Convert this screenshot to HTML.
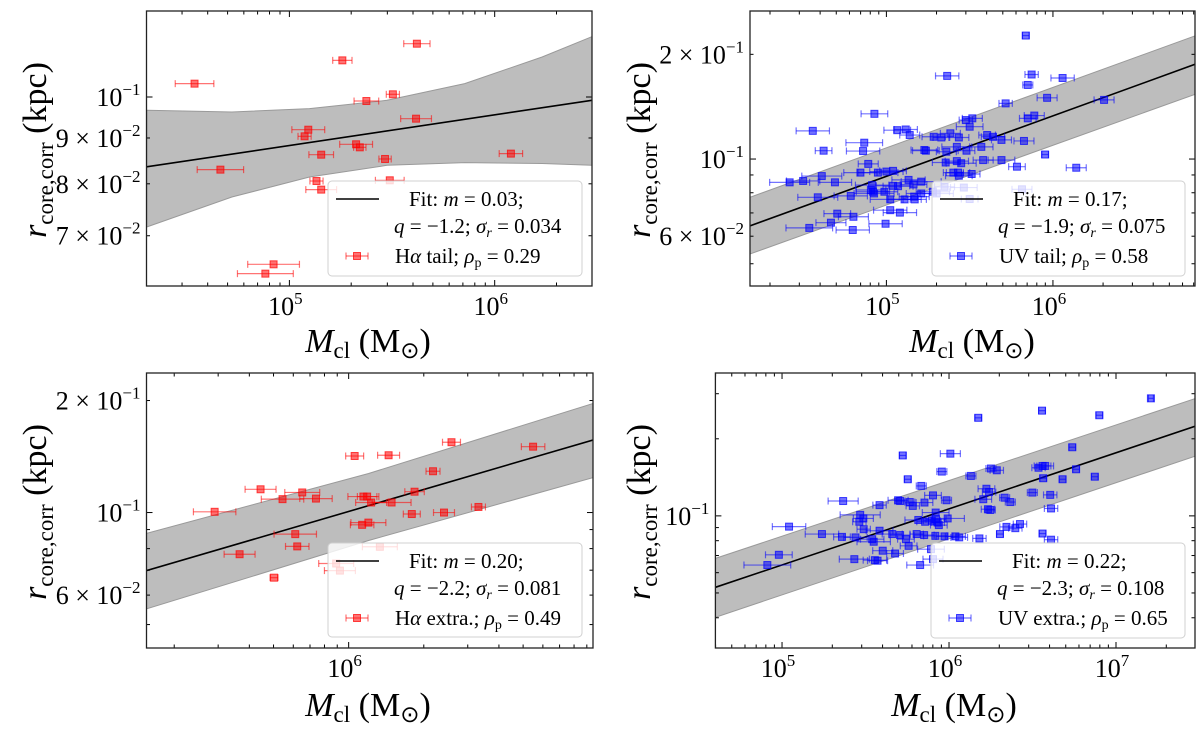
<!DOCTYPE html>
<html><head><meta charset="utf-8"><style>
html,body{margin:0;padding:0;background:#fff;}
svg{display:block;font-family:"Liberation Serif","DejaVu Serif",serif;}
</style></head><body>
<svg id="fig" width="1200" height="735" viewBox="0 0 1200 735" xmlns="http://www.w3.org/2000/svg"></svg>
<script>
// ---------- Panel 1 : Halpha tail (log10 values) ----------
const p1LogM=[5.621,5.258,4.538,5.504,5.375,5.617,5.092,5.074,5.325,5.343,5.155,5.466,6.079,4.664,5.132,5.489,5.155,4.923,4.883];
const p1LogR=[-0.9405,-0.9591,-0.9851,-0.997,-1.0045,-1.0242,-1.0365,-1.0439,-1.0528,-1.0562,-1.0644,-1.0692,-1.0632,-1.0811,-1.0938,-1.093,-1.1034,-1.1868,-1.1972];
const p1XErr=[0.064,0.047,0.094,0.032,0.06,0.075,0.08,0.032,0.08,0.03,0.06,0.03,0.057,0.113,0.032,0.07,0.075,0.126,0.136];
const p1FitX=[4.304,6.474];
const p1FitY=[-1.078,-1.0037];
const p1BandX=[4.305,4.72,5.098,5.476,5.854,6.231,6.477];
const p1BandUp=[-1.0148,-1.0167,-1.013,-1.0037,-0.985,-0.9554,-0.9323];
const p1BandLo=[-1.1451,-1.1116,-1.0893,-1.0762,-1.0732,-1.0743,-1.0762];
const p1YTicks=[0.1,0.09,0.08,0.07];
const p1YLabels=[["","-1"],["9","-2"],["8","-2"],["7","-2"]];
const p1XTicks=[1e5,1e6];
const p1XLabels=["5","6"];
// ---------- Panel 2 : UV tail ----------
const p2LogM=[5.837,5.365,5.872,6.058,5.849,5.965,5.716,6.307,4.928,5.516,5.477,5.849,5.888,5.5,4.558,5.065,5.116,5.14,5.284,5.33,5.384,5.435,5.605,5.64,5.691,5.826,4.867,4.623,4.86,5.228,5.237,5.36,5.423,5.481,5.57,5.953,4.891,5.581,5.691,5.356,5.423,5.449,5.784,6.14,4.844,4.949,5.0,5.04,4.612,4.419,4.5,4.691,5.402,5.43,5.435,5.512,5.133,5.209,5.163,4.914,5.04,5.07,4.919,4.988,4.926,4.907,4.786,4.588,5.023,5.109,5.167,5.17,5.209,5.279,5.349,5.465,5.302,5.5,5.814,4.705,4.802,5.023,5.081,4.667,4.995,4.537,4.798];
const p2LogR=[-0.645,-0.761,-0.757,-0.767,-0.787,-0.824,-0.84,-0.83,-0.87,-0.883,-0.888,-0.883,-0.875,-0.907,-0.919,-0.917,-0.915,-0.931,-0.936,-0.938,-0.926,-0.938,-0.931,-0.936,-0.945,-0.948,-0.953,-0.976,-0.977,-0.974,-0.976,-0.979,-0.965,-0.976,-0.965,-0.987,-1.014,-1.003,-1.003,-1.01,-1.006,-1.012,-1.022,-1.025,-1.039,-1.039,-1.036,-1.034,-1.049,-1.067,-1.063,-1.067,-1.039,-1.039,-1.048,-1.043,-1.06,-1.065,-1.073,-1.075,-1.077,-1.078,-1.094,-1.094,-1.099,-1.089,-1.106,-1.11,-1.116,-1.116,-1.108,-1.116,-1.099,-1.094,-1.08,-1.082,-1.099,-1.115,-1.087,-1.157,-1.166,-1.147,-1.154,-1.183,-1.186,-1.198,-1.204];
const p2XErr=[0.02,0.07,0.04,0.07,0.03,0.06,0.04,0.06,0.08,0.06,0.04,0.05,0.06,0.08,0.1,0.08,0.07,0.06,0.07,0.05,0.06,0.06,0.05,0.07,0.06,0.06,0.11,0.05,0.1,0.08,0.08,0.06,0.09,0.05,0.07,0.02,0.06,0.06,0.08,0.08,0.07,0.09,0.05,0.06,0.1,0.12,0.1,0.08,0.12,0.12,0.1,0.1,0.06,0.07,0.08,0.05,0.1,0.12,0.08,0.1,0.1,0.09,0.1,0.08,0.12,0.09,0.1,0.12,0.12,0.1,0.09,0.07,0.09,0.1,0.06,0.08,0.1,0.05,0.06,0.08,0.09,0.1,0.1,0.09,0.1,0.14,0.1];
const p2FitX=[4.181,6.853];
const p2FitY=[-1.192,-0.7276];
const p2BandX=[4.181,6.853];
const p2BandUp=[-1.11,-0.646];
const p2BandLo=[-1.273,-0.814];
const p2YTicks=[0.2,0.1,0.06];
const p2YLabels=[["2","-1"],["","-1"],["6","-2"]];
const p2XTicks=[1e5,1e6];
const p2XLabels=["5","6"];
// ---------- Panel 3 : Halpha extra ----------
const p3LogM=[6.412,6.739,6.024,6.16,6.338,5.647,5.814,5.735,5.869,6.059,6.074,6.09,6.172,6.264,5.463,6.253,6.382,6.52,6.054,6.079,5.786,5.794,5.563,6.125,5.95,5.965,5.701];
const p3LogR=[-0.811,-0.823,-0.848,-0.846,-0.889,-0.9375,-0.946,-0.964,-0.9625,-0.957,-0.957,-0.973,-0.973,-0.944,-0.998,-1.004,-1.0,-0.985,-1.033,-1.027,-1.058,-1.091,-1.112,-1.092,-1.137,-1.156,-1.175];
const p3XErr=[0.036,0.047,0.036,0.044,0.028,0.062,0.07,0.085,0.065,0.062,0.039,0.062,0.078,0.039,0.085,0.034,0.042,0.028,0.047,0.07,0.085,0.047,0.062,0.07,0.07,0.062,0.016];
const p3FitX=[5.19,6.979];
const p3FitY=[-1.156,-0.805];
const p3BandX=[5.19,6.08,6.979];
const p3BandUp=[-1.056,-0.895,-0.707];
const p3BandLo=[-1.259,-1.075,-0.906];
const p3YTicks=[0.2,0.1,0.06];
const p3YLabels=[["2","-1"],["","-1"],["6","-2"]];
const p3XTicks=[1e6];
const p3XLabels=["6"];
// ---------- Panel 4 : UV extra ----------
const p4LogM=[7.209,6.557,6.175,6.9,6.738,5.723,6.008,6.56,6.536,6.576,6.251,6.286,6.761,5.957,6.131,5.753,6.564,6.68,6.873,5.834,6.224,6.24,6.499,6.606,5.904,6.333,6.367,6.205,5.366,5.584,5.695,5.707,5.765,5.783,5.853,5.985,6.233,6.247,6.611,5.92,5.468,5.487,5.463,5.489,5.816,5.857,5.897,5.922,5.932,5.992,5.939,6.425,6.344,6.397,5.239,5.359,5.44,5.584,5.66,5.707,5.742,5.806,5.851,5.918,5.973,6.038,6.061,6.182,6.305,6.56,6.611,5.54,5.549,5.758,5.603,5.677,5.892,5.433,5.556,5.572,5.904,5.827,4.981,4.912,5.042];
const p4LogR=[-0.541,-0.589,-0.617,-0.607,-0.732,-0.764,-0.757,-0.805,-0.812,-0.805,-0.815,-0.822,-0.818,-0.827,-0.844,-0.857,-0.853,-0.857,-0.847,-0.883,-0.894,-0.907,-0.909,-0.918,-0.92,-0.929,-0.946,-0.935,-0.942,-0.958,-0.939,-0.942,-0.946,-0.961,-0.948,-0.939,-0.974,-0.977,-0.971,-0.987,-0.996,-1.01,-1.023,-1.052,-1.016,-1.023,-1.019,-1.013,-1.026,-1.01,-1.036,-1.032,-1.043,-1.048,-1.071,-1.082,-1.084,-1.058,-1.071,-1.075,-1.091,-1.071,-1.075,-1.078,-1.08,-1.08,-1.084,-1.088,-1.071,-1.069,-1.093,-1.091,-1.101,-1.117,-1.136,-1.147,-1.13,-1.169,-1.173,-1.175,-1.169,-1.192,-1.152,-1.192,-1.042];
const p4XErr=[0.015,0.02,0.02,0.02,0.02,0.02,0.06,0.05,0.04,0.05,0.03,0.04,0.02,0.03,0.03,0.02,0.02,0.02,0.02,0.03,0.05,0.04,0.03,0.04,0.05,0.03,0.03,0.05,0.09,0.04,0.06,0.03,0.03,0.04,0.05,0.03,0.04,0.03,0.04,0.08,0.12,0.06,0.04,0.04,0.08,0.05,0.05,0.06,0.04,0.1,0.05,0.04,0.04,0.04,0.1,0.05,0.07,0.08,0.06,0.06,0.05,0.04,0.06,0.07,0.05,0.06,0.05,0.04,0.02,0.02,0.04,0.07,0.1,0.05,0.06,0.05,0.08,0.09,0.07,0.06,0.06,0.08,0.08,0.14,0.1];
const p4FitX=[4.601,7.473];
const p4FitY=[-1.279,-0.65];
const p4BandX=[4.601,7.473];
const p4BandUp=[-1.166,-0.542];
const p4BandLo=[-1.396,-0.767];
const p4YTicks=[0.1];
const p4YLabels=[["","-1"]];
const p4XTicks=[1e5,1e6,1e7];
const p4XLabels=["5","6","7"];

const NS="http://www.w3.org/2000/svg";
const svg=document.getElementById('fig');
function mk(tag,attrs,parent){const e=document.createElementNS(NS,tag);for(const k in attrs)e.setAttribute(k,attrs[k]);(parent||svg).appendChild(e);return e;}

const panels=[
 {id:'p1',L:146.5,R:592,T:11,B:286,x0:4.304,x1:6.474,y0:-1.211,y1:-0.904,m:p1LogM,r:p1LogR,xe:p1XErr,fx:p1FitX,fy:p1FitY,bx:p1BandX,bu:p1BandUp,bl:p1BandLo,yt:p1YTicks,yl:p1YLabels,xt:p1XTicks,xl:p1XLabels,col:'255,0,0',
  leg:{x:328,y:181,w:254,h:95},t1:['Fit: ','m',' = 0.03;'],t2:'−1.2',t2b:'0.034',t3:['H','α',' tail; '],t3v:'0.29',ylx:36,yly:150,xlx:368,xly:352},
 {id:'p2',L:750,R:1195,T:11,B:286,x0:4.181,x1:6.853,y0:-1.365,y1:-0.5744,m:p2LogM,r:p2LogR,xe:p2XErr,fx:p2FitX,fy:p2FitY,bx:p2BandX,bu:p2BandUp,bl:p2BandLo,yt:p2YTicks,yl:p2YLabels,xt:p2XTicks,xl:p2XLabels,col:'0,0,255',
  leg:{x:932,y:181,w:253,h:95},t1:['Fit: ','m',' = 0.17;'],t2:'−1.9',t2b:'0.075',t3:['UV tail; '],t3v:'0.58',ylx:640,yly:150,xlx:972,xly:352},
 {id:'p3',L:146.5,R:593,T:373,B:648,x0:5.19,x1:6.979,y0:-1.364,y1:-0.625,m:p3LogM,r:p3LogR,xe:p3XErr,fx:p3FitX,fy:p3FitY,bx:p3BandX,bu:p3BandUp,bl:p3BandLo,yt:p3YTicks,yl:p3YLabels,xt:p3XTicks,xl:p3XLabels,col:'255,0,0',
  leg:{x:328,y:543,w:254,h:94},t1:['Fit: ','m',' = 0.20;'],t2:'−2.2',t2b:'0.081',t3:['H','α',' extra.; '],t3v:'0.49',ylx:36,yly:512,xlx:368,xly:716},
 {id:'p4',L:715.4,R:1195,T:373,B:648,x0:4.601,x1:7.473,y0:-1.516,y1:-0.442,m:p4LogM,r:p4LogR,xe:p4XErr,fx:p4FitX,fy:p4FitY,bx:p4BandX,bu:p4BandUp,bl:p4BandLo,yt:p4YTicks,yl:p4YLabels,xt:p4XTicks,xl:p4XLabels,col:'0,0,255',
  leg:{x:931,y:543,w:254,h:95},t1:['Fit: ','m',' = 0.22;'],t2:'−2.3',t2b:'0.108',t3:['UV extra.; '],t3v:'0.65',ylx:640,yly:512,xlx:954,xly:716}
];

panels.forEach(P=>{
  const sx=v=>P.L+(v-P.x0)/(P.x1-P.x0)*(P.R-P.L);
  const sy=v=>P.B-(v-P.y0)/(P.y1-P.y0)*(P.B-P.T);
  const g=mk('g',{});
  
  
  const clip=mk('clipPath',{id:'clip-'+P.id},g);
  mk('rect',{x:P.L,y:P.T,width:P.R-P.L,height:P.B-P.T},clip);
  const plot=mk('g',{'clip-path':'url(#clip-'+P.id+')'},g);
  let d='';
  P.bx.forEach((x,i)=>{d+=(i?'L':'M')+sx(x).toFixed(1)+','+sy(P.bu[i]).toFixed(1);});
  for(let i=P.bx.length-1;i>=0;i--)d+='L'+sx(P.bx[i]).toFixed(1)+','+sy(P.bl[i]).toFixed(1);
  const band=mk('path',{d:d+'Z',fill:'#bdbdbd',stroke:'#9a9a9a','stroke-width':1},plot);
  
  
  const fit=mk('line',{x1:sx(P.fx[0]),y1:sy(P.fy[0]),x2:sx(P.fx[1]),y2:sy(P.fy[1]),stroke:'#000','stroke-width':1.6},plot);
  
  
  P.m.forEach((m,i)=>{
    const e=(P.xe[i]!==undefined?P.xe[i]:0.06);
    const cx=sx(m),cy=sy(P.r[i]),xa=sx(m-e),xb=sx(m+e);
    const pg=mk('g',{},plot);
    
    
    const c='rgba('+P.col+',0.55)';
    mk('line',{x1:xa,y1:cy,x2:xb,y2:cy,stroke:c,'stroke-width':1.2},pg);
    mk('line',{x1:xa,y1:cy-3.5,x2:xa,y2:cy+3.5,stroke:c,'stroke-width':1.2},pg);
    mk('line',{x1:xb,y1:cy-3.5,x2:xb,y2:cy+3.5,stroke:c,'stroke-width':1.2},pg);
    mk('rect',{x:cx-3.5,y:cy-3.5,width:7,height:7,fill:'rgba('+P.col+',0.55)',stroke:'rgba('+P.col+',0.7)','stroke-width':1},pg);
  });
  const tg=mk('g',{stroke:'#000','stroke-width':1},g);
  for(let dec=Math.floor(P.x0);dec<=Math.ceil(P.x1);dec++){for(let k=1;k<10;k++){const v=dec+Math.log10(k);if(v<P.x0||v>P.x1)continue;const x=sx(v),len=k==1?6:3.5;
    mk('line',{x1:x,y1:P.B,x2:x,y2:P.B-len},tg);mk('line',{x1:x,y1:P.T,x2:x,y2:P.T+len},tg);}}
  for(let dec=Math.floor(P.y0);dec<=Math.ceil(P.y1);dec++){for(let k=1;k<10;k++){const v=dec+Math.log10(k);if(v<P.y0||v>P.y1)continue;const y=sy(v),len=k==1?6:3.5;
    mk('line',{x1:P.L,y1:y,x2:P.L+len,y2:y},tg);mk('line',{x1:P.R,y1:y,x2:P.R-len,y2:y},tg);}}
  const frame=mk('rect',{x:P.L,y:P.T,width:P.R-P.L,height:P.B-P.T,fill:'none',stroke:'#222','stroke-width':1.3},g);
  
  
  P.xt.forEach((v,i)=>{
    const t=mk('text',{x:sx(Math.log10(v))-4,y:P.B+29,'font-size':26,'text-anchor':'middle'},g);
    
    
    t.appendChild(document.createTextNode('10'));
    const s=mk('tspan',{'font-size':17,dy:-11},t);s.textContent=P.xl[i];
  });
  P.yt.forEach((v,i)=>{
    const t=mk('text',{x:P.L-6,y:sy(Math.log10(v))+9,'font-size':26,'text-anchor':'end'},g);
    
    
    const lab=P.yl[i];
    t.appendChild(document.createTextNode((lab[0]?lab[0]+' × ':'')+'10'));
    const s=mk('tspan',{'font-size':17,dy:-11},t);s.textContent=lab[1].replace('-','−');
  });
  const xl=mk('text',{x:P.xlx,y:P.xly,'font-size':34,'text-anchor':'middle'},g);
  
  
  mk('tspan',{'font-style':'italic'},xl).textContent='M';
  mk('tspan',{'font-size':23,dy:6},xl).textContent='cl';
  mk('tspan',{dy:-6},xl).textContent=' (M';
  mk('tspan',{'font-size':23,dy:6,'font-family':'DejaVu Sans'},xl).textContent='⊙';
  mk('tspan',{dy:-6},xl).textContent=')';
  const yl=mk('text',{x:0,y:0,'font-size':34,'text-anchor':'middle',transform:'translate('+(P.ylx+10)+','+P.yly+') rotate(-90)'},g);
  
  
  mk('tspan',{'font-style':'italic'},yl).textContent='r';
  mk('tspan',{'font-size':23,dy:7},yl).textContent='core,corr';
  mk('tspan',{dy:-7},yl).textContent=' (kpc)';
  const L=P.leg;
  const lg=mk('g',{},g);
  
  
  mk('rect',{x:L.x,y:L.y,width:L.w,height:L.h,rx:4,fill:'rgba(255,255,255,0.8)',stroke:'#d0d0d0','stroke-width':1},lg);
  mk('line',{x1:L.x+8,y1:L.y+18,x2:L.x+51,y2:L.y+18,stroke:'#000','stroke-width':1.6},lg);
  const fs=21;
  const a=mk('text',{x:L.x+81,y:L.y+25,'font-size':fs},lg);
  mk('tspan',{},a).textContent=P.t1[0];mk('tspan',{'font-style':'italic'},a).textContent=P.t1[1];mk('tspan',{},a).textContent=P.t1[2];
  const b=mk('text',{x:L.x+66,y:L.y+52,'font-size':fs},lg);
  mk('tspan',{'font-style':'italic'},b).textContent='q';
  mk('tspan',{},b).textContent=' = '+P.t2+'; ';
  mk('tspan',{'font-style':'italic'},b).textContent='σ';
  mk('tspan',{'font-style':'italic','font-size':14,dy:4},b).textContent='r';
  mk('tspan',{dy:-4},b).textContent=' = '+P.t2b;
  const mc='rgba('+P.col+',0.55)';
  const my=L.y+75,mx=L.x+29;
  mk('line',{x1:mx-11,y1:my,x2:mx+11,y2:my,stroke:mc,'stroke-width':1.2},lg);
  mk('line',{x1:mx-11,y1:my-3.5,x2:mx-11,y2:my+3.5,stroke:mc,'stroke-width':1.2},lg);
  mk('line',{x1:mx+11,y1:my-3.5,x2:mx+11,y2:my+3.5,stroke:mc,'stroke-width':1.2},lg);
  mk('rect',{x:mx-3.5,y:my-3.5,width:7,height:7,fill:mc,stroke:'rgba('+P.col+',0.7)'},lg);
  const c=mk('text',{x:L.x+67,y:L.y+82,'font-size':fs},lg);
  if(P.t3.length===3){mk('tspan',{},c).textContent=P.t3[0];mk('tspan',{'font-style':'italic'},c).textContent=P.t3[1];mk('tspan',{},c).textContent=P.t3[2];}
  else mk('tspan',{},c).textContent=P.t3[0];
  mk('tspan',{'font-style':'italic'},c).textContent='ρ';
  mk('tspan',{'font-size':14,dy:4},c).textContent='p';
  mk('tspan',{dy:-4},c).textContent=' = '+P.t3v;
});
</script>
</body></html>
